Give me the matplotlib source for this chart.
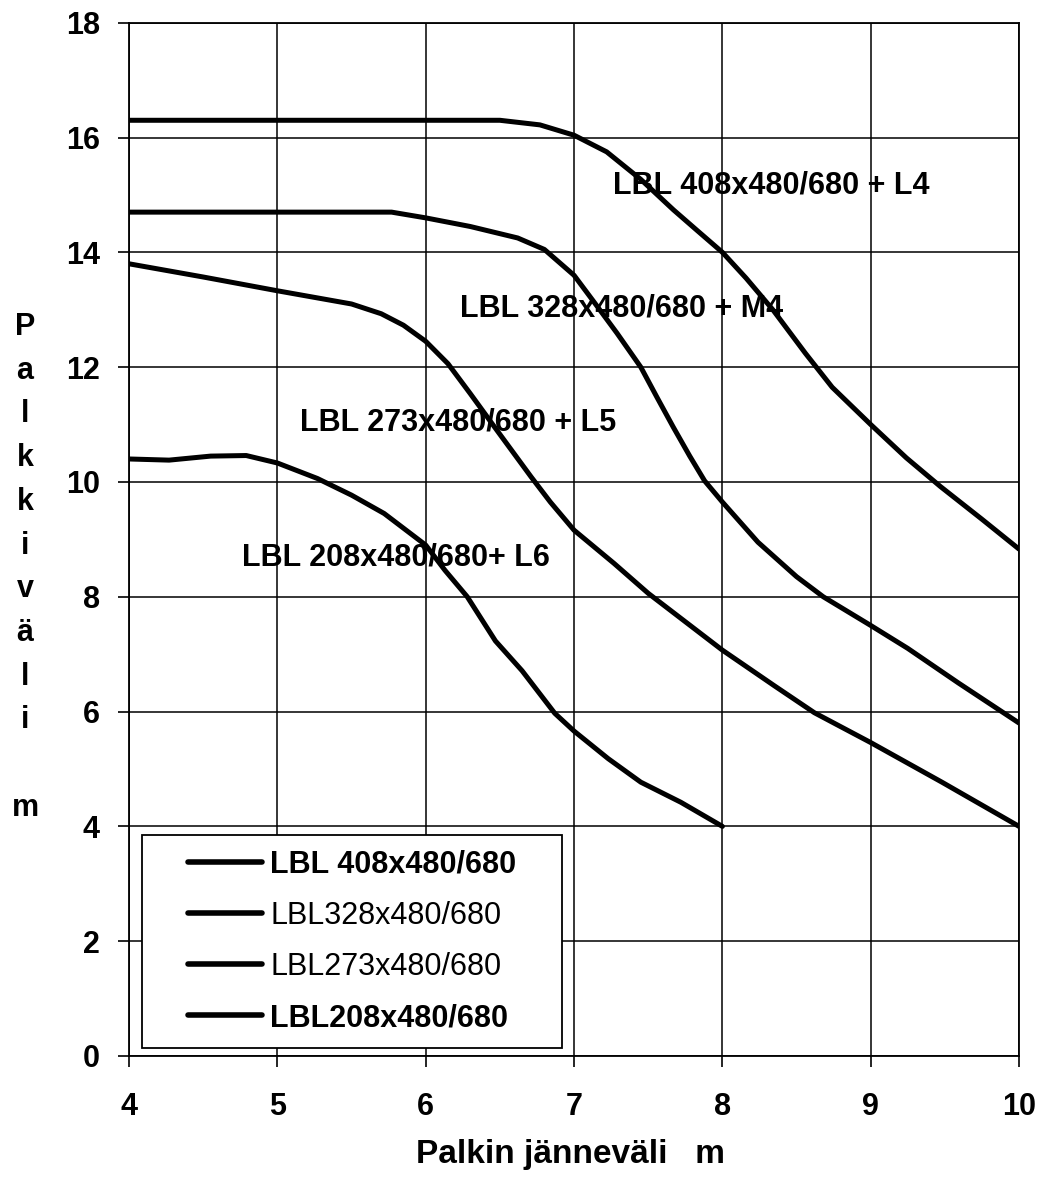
import numpy as np
import matplotlib
matplotlib.use('Agg')
import matplotlib.pyplot as plt
from matplotlib.patches import Rectangle

plt.rcParams['font.family'] = ['Liberation Sans', 'DejaVu Sans']
plt.rcParams['font.weight'] = 'bold'

# palkkivali (m) luettuna kuvasta, jannevali 4..10 m
x408 = [4, 4.5, 5, 5.5, 6, 6.5, 6.77, 7.0, 7.22, 7.45, 7.67, 7.83, 8.0, 8.16, 8.34, 8.56, 8.74, 9.0, 9.24, 9.47, 9.75, 10.0]
y408 = [16.3, 16.3, 16.3, 16.3, 16.3, 16.3, 16.22, 16.04, 15.75, 15.27, 14.74, 14.38, 14.0, 13.55, 13.0, 12.24, 11.65, 11.0, 10.42, 9.92, 9.35, 8.83]

x328 = [4, 5, 5.77, 6.0, 6.3, 6.62, 6.8, 7.0, 7.13, 7.29, 7.45, 7.56, 7.67, 7.78, 7.88, 8.0, 8.24, 8.5, 8.68, 9.0, 9.25, 9.59, 10.0]
y328 = [14.7, 14.7, 14.7, 14.6, 14.45, 14.25, 14.05, 13.6, 13.15, 12.59, 12.0, 11.47, 10.95, 10.45, 10.02, 9.65, 8.95, 8.35, 8.0, 7.5, 7.1, 6.5, 5.8]

x273 = [4, 4.5, 5, 5.5, 5.7, 5.85, 6.0, 6.15, 6.3, 6.48, 6.71, 6.84, 7.0, 7.27, 7.5, 8.0, 8.35, 8.62, 9.0, 9.48, 10.0]
y273 = [13.8, 13.57, 13.33, 13.1, 12.93, 12.73, 12.45, 12.06, 11.54, 10.9, 10.09, 9.65, 9.16, 8.58, 8.06, 7.07, 6.45, 5.98, 5.46, 4.77, 4.0]

x208 = [4, 4.27, 4.55, 4.79, 5.0, 5.27, 5.5, 5.72, 6.0, 6.13, 6.28, 6.47, 6.65, 6.87, 7.0, 7.23, 7.45, 7.72, 8.0]
y208 = [10.4, 10.38, 10.45, 10.46, 10.33, 10.06, 9.77, 9.45, 8.9, 8.46, 8.0, 7.23, 6.71, 5.97, 5.66, 5.18, 4.77, 4.42, 4.0]

legend_labels = ['LBL 408x480/680', 'LBL328x480/680', 'LBL273x480/680', 'LBL208x480/680']
legend_weights = ['bold', 'normal', 'normal', 'bold']

curve_texts = ['LBL 408x480/680 + L4', 'LBL 328x480/680 + M4', 'LBL 273x480/680 + L5', 'LBL 208x480/680+ L6']
text_x = [7.26, 6.23, 5.15, 4.76]
text_y = [15.17, 13.03, 11.03, 8.69]

xticks = [4, 5, 6, 7, 8, 9, 10]
yticks = [0, 2, 4, 6, 8, 10, 12, 14, 16, 18]

fig = plt.figure(figsize=(10.39, 11.82), dpi=100)
ax = fig.add_axes([0.1242, 0.1066, 0.8566, 0.8742])

for xs, ys, lab in zip([x408, x328, x273, x208], [y408, y328, y273, y208], legend_labels):
    ax.plot(xs, ys, color='black', lw=3.6, solid_capstyle='round', solid_joinstyle='round', label=lab, zorder=3)

ax.set_xlim(4, 10)
ax.set_ylim(0, 18)
ax.set_xticks(xticks)
ax.set_yticks(yticks)
ax.grid(True, color='black', lw=1.1)
for s in ax.spines.values():
    s.set_linewidth(1.3)
ax.tick_params(axis='both', direction='out', length=8, width=1.2, labelsize=22)
ax.tick_params(axis='x', pad=18)
ax.tick_params(axis='y', pad=13)

for s, tx, ty in zip(curve_texts, text_x, text_y):
    ax.text(tx, ty, s, fontsize=22, fontweight='bold', ha='left', va='center', zorder=4)

# selitelaatikko
box = Rectangle((0.0146, 0.0077), 0.4719, 0.2061, transform=ax.transAxes, facecolor='white',
                edgecolor='black', lw=1.3, zorder=5)
ax.add_patch(box)
leg = ax.legend(loc='center', bbox_to_anchor=(0.2506, 0.1108), fontsize=22, frameon=False,
                handlelength=2.45, handletextpad=0.26, labelspacing=0.69, borderpad=0,
                borderaxespad=0)
leg.set_zorder(6)
for t, w in zip(leg.get_texts(), legend_weights):
    t.set_fontweight(w)
for h in leg.get_lines():
    h.set_linewidth(4)

# pystysuora akselin otsikko kirjain kerrallaan
ylab = ['P', 'a', 'l', 'k', 'k', 'i', 'v', 'ä', 'l', 'i', '', 'm']
for i, ch in enumerate(ylab):
    fig.text(25 / 1039, 1 - (327 + 43.7 * i) / 1182, ch, fontsize=22, fontweight='bold',
             ha='center', va='center')

fig.text(570 / 1039, 1 - 1154 / 1182, 'Palkin jänneväli   m', fontsize=24, fontweight='bold',
         ha='center', va='center')

fig.savefig('out.png', dpi=100)
